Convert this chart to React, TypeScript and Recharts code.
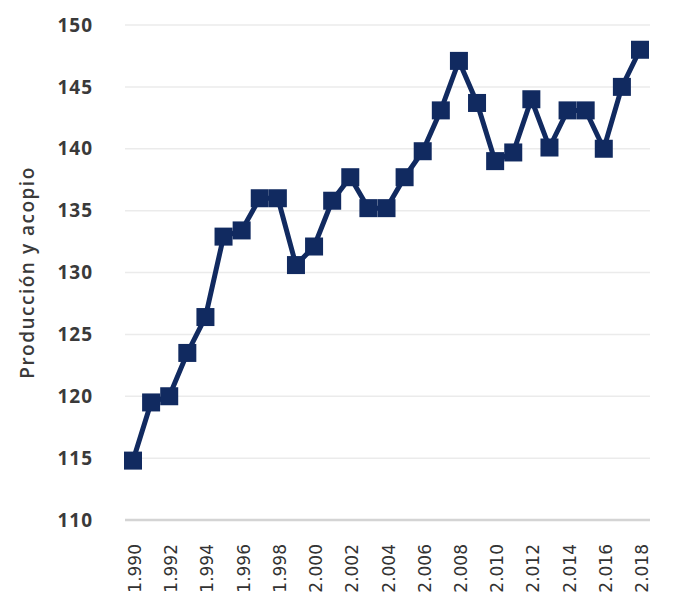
import React from 'react';
import { LineChart, Line, XAxis, YAxis, CartesianGrid } from 'recharts';

const years = [1990, 1991, 1992, 1993, 1994, 1995, 1996, 1997, 1998, 1999, 2000, 2001, 2002, 2003, 2004, 2005, 2006, 2007, 2008, 2009, 2010, 2011, 2012, 2013, 2014, 2015, 2016, 2017, 2018];
const values = [114.8, 119.5, 120.0, 123.5, 126.4, 132.9, 133.4, 136.0, 136.0, 130.6, 132.1, 135.8, 137.7, 135.2, 135.2, 137.7, 139.8, 143.1, 147.1, 143.7, 139.0, 139.7, 144.0, 140.1, 143.1, 143.1, 140.0, 145.0, 148.0];
const yTicks = [110, 115, 120, 125, 130, 135, 140, 145, 150];
const yLabel = 'Producción y acopio';

const data = years.map((y, i) => ({ year: y, value: values[i] }));

const NAVY = '#112a60';

const fmtYear = (v: number) => {
  const s = String(v);
  return s.slice(0, 1) + '.' + s.slice(1);
};

const XTick = (props: any) => {
  const { x, y, payload } = props;
  return (
    <text
      transform={`translate(${x + 2},${y + 16}) rotate(-90)`}
      x={0}
      y={0}
      textAnchor="end"
      dominantBaseline="central"
      fontFamily="DejaVu Sans, Verdana, sans-serif"
      fontSize={17}
      fill="#333333"
    >
      {fmtYear(payload.value)}
    </text>
  );
};

const SquareDot = (props: any) => {
  const { cx, cy, index } = props;
  if (cx == null || cy == null) return null;
  const s = 18;
  return <rect key={`d${index}`} x={cx - s / 2} y={cy - s / 2} width={s} height={s} fill={NAVY} />;
};

export default function App() {
  return (
    <LineChart
      width={691}
      height={589}
      data={data}
      margin={{ top: 17, right: 49, left: 0, bottom: 0 }}
      style={{ background: '#ffffff' }}
    >
      <CartesianGrid vertical={false} stroke="#ebebeb" strokeWidth={1.5} />
      <XAxis
        dataKey="year"
        type="category"
        interval={1}
        height={77}
        padding={{ left: 8, right: 10 }}
        tickLine={false}
        axisLine={{ stroke: '#d4d4d4', strokeWidth: 2.5 }}
        tick={<XTick />}
      />
      <YAxis
        domain={[110, 150]}
        ticks={yTicks}
        width={117}
        axisLine={false}
        tickLine={false}
        tickSize={0}
        tickMargin={32}
        tick={{ fontFamily: 'Open Sans, sans-serif', fontWeight: 700, fontSize: 19, letterSpacing: 1, fill: '#3a3a3a' }}
        label={{
          value: yLabel,
          angle: -90,
          position: 'insideLeft',
          offset: 19,
          style: { fontFamily: 'Open Sans, sans-serif', fontWeight: 600, fontSize: 19, letterSpacing: 1.5, fill: '#3a3a3a', textAnchor: 'middle' },
        }}
      />
      <Line
        type="linear"
        dataKey="value"
        stroke={NAVY}
        strokeWidth={5}
        dot={<SquareDot />}
        activeDot={false}
        isAnimationActive={false}
      />
    </LineChart>
  );
}
